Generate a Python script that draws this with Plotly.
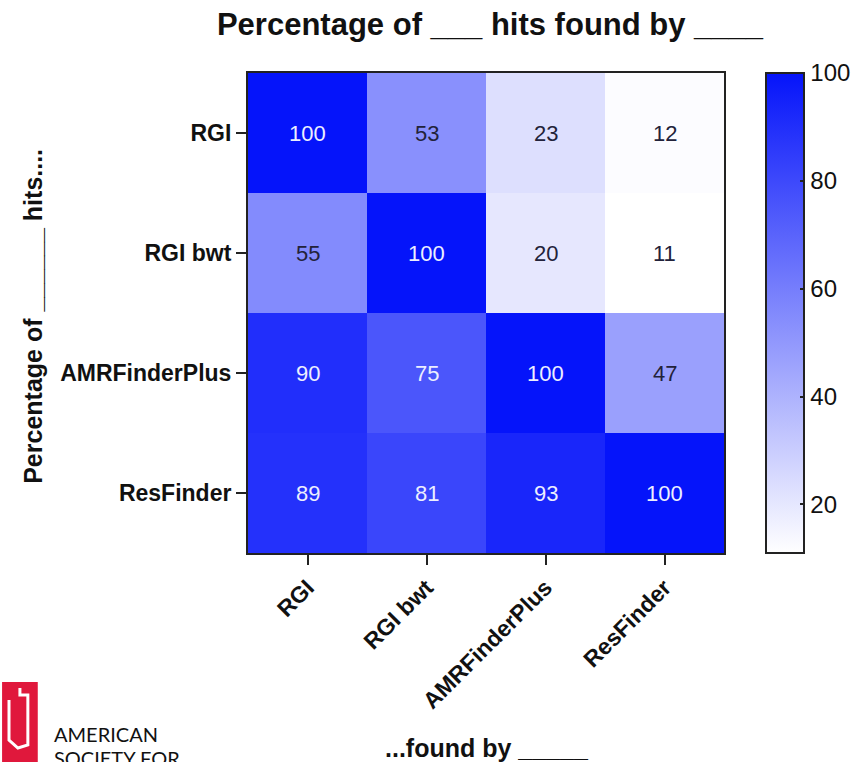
import plotly.graph_objects as go

tools = ["RGI", "RGI bwt", "AMRFinderPlus", "ResFinder"]
row_labels = tools
col_labels = tools
values = [
    [100, 53, 23, 12],
    [55, 100, 20, 11],
    [90, 75, 100, 47],
    [89, 81, 93, 100],
]
cbar_ticks = [20, 40, 60, 80, 100]
zmin, zmax = 11, 100

FONT = "Liberation Sans, Arial, sans-serif"
W, H = 868, 762
L, R, T, B = 248, 728, 73, 553
pw, ph = R - L, B - T


def px(xp, yp):
    """pixel position -> paper coordinates"""
    return (xp - L) / pw, (B - yp) / ph


fig = go.Figure(go.Heatmap(
    z=values, x=col_labels, y=row_labels,
    zmin=zmin, zmax=zmax,
    colorscale=[[0, "#ffffff"], [1, "#0514fa"]],
    hoverinfo="skip",
    colorbar=dict(
        x=px(770, 0)[0], xanchor="left", xref="paper",
        y=0.5, yanchor="middle", len=1.0, lenmode="fraction",
        thickness=38, thicknessmode="pixels",
        outlinewidth=2, outlinecolor="#222",
        tickvals=cbar_ticks, ticks="inside", ticklen=5, tickwidth=2, tickcolor="#222",
        tickfont=dict(family=FONT, size=24, color="#111"),
        xpad=0, ypad=0,
    ),
))

annotations = []
for i, r in enumerate(row_labels):
    for j, c in enumerate(col_labels):
        v = values[i][j]
        annotations.append(dict(
            x=c, y=r, xref="x", yref="y", text=str(v), showarrow=False,
            font=dict(family=FONT, size=22, color="#eceeff" if v >= 70 else "#22223a"),
        ))

# axis titles
ax, ay = px(489, 748)
annotations.append(dict(x=ax, y=ay, xref="paper", yref="paper", text="<b>...found by _____</b>",
                        showarrow=False, xanchor="center", yanchor="middle",
                        font=dict(family=FONT, size=25, color="#111")))
bx, by = px(31, 316)
annotations.append(dict(x=bx, y=by, xref="paper", yref="paper", text="<b>Percentage of ______ hits....</b>",
                        showarrow=False, xanchor="center", yanchor="middle", textangle=-90,
                        font=dict(family=FONT, size=25, color="#111")))

# ASM logo text
for txt, yy in [("AMERICAN", 734), ("SOCIETY FOR", 758)]:
    lx, ly = px(50, yy)
    annotations.append(dict(x=lx, y=ly, xref="paper", yref="paper", text=txt, showarrow=False,
                            xanchor="left", yanchor="middle",
                            font=dict(family="Lato, sans-serif", size=20, color="#111")))

fig.update_layout(
    width=W, height=H,
    margin=dict(l=L, r=W - R, t=T, b=H - B),
    paper_bgcolor="white", plot_bgcolor="white",
    font=dict(family=FONT, color="#111"),
    title=dict(text="<b>Percentage of ___ hits found by ____</b>",
               x=490 / W, xanchor="center", y=1 - 24 / H, yanchor="middle",
               font=dict(family=FONT, size=31, color="#111")),
    xaxis=dict(
        showgrid=False, zeroline=False, tickangle=-45,
        ticks="outside", ticklen=10, tickwidth=2, tickcolor="#222",
        tickfont=dict(family=FONT, size=23, color="#111"),
        tickprefix="<b>", ticksuffix="</b>",
        showline=True, linewidth=2, linecolor="#222", mirror=True,
    ),
    yaxis=dict(
        showgrid=False, zeroline=False, autorange="reversed",
        ticks="outside", ticklen=10, tickwidth=2, tickcolor="#222",
        tickfont=dict(family=FONT, size=23, color="#111"),
        tickprefix="<b>", ticksuffix="</b>",
        showline=True, linewidth=2, linecolor="#222", mirror=True,
    ),
    annotations=annotations,
)

# logo red block
x0, y0 = px(0, 682)
x1, y1 = px(36, 780)
fig.add_shape(type="rect", xref="paper", yref="paper", x0=x0, y0=y1, x1=x1, y1=y0,
              fillcolor="#e0183c", line=dict(width=0), layer="above")
# syringe glyph
pts = [(7, 700), (7, 740), (16, 748), (26, 745), (26, 695), (18, 695), (18, 688)]
path = "M " + " L ".join(f"{px(a, b)[0]},{px(a, b)[1]}" for a, b in pts)
fig.add_shape(type="path", xref="paper", yref="paper", path=path,
              line=dict(color="white", width=3), layer="above")

fig.write_html("out.html", config={"displayModeBar": False},
               post_script="document.body.style.margin='0';")
